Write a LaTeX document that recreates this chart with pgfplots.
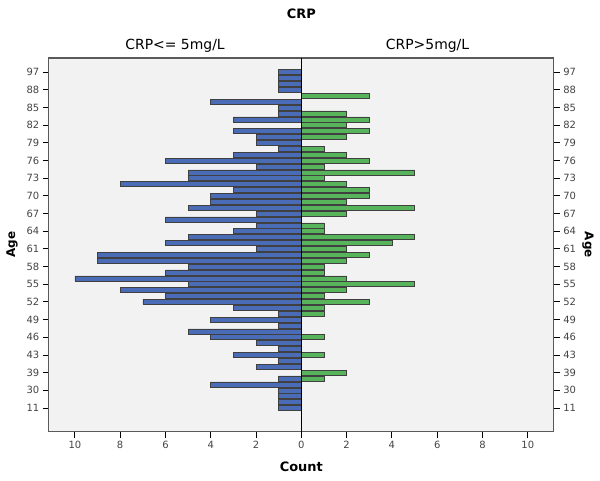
\documentclass[border=0pt]{standalone}
\usepackage{pgfplots}
\pgfplotsset{compat=1.18}
\usepackage{fontspec}
\setmainfont{DejaVu Sans}
\definecolor{bgc}{HTML}{F2F2F2}
\definecolor{framec}{HTML}{5A5A5A}
\definecolor{bluebar}{HTML}{4A6BB5}
\definecolor{greenbar}{HTML}{58B45B}
\definecolor{tickc}{HTML}{444444}
\begin{document}
\begin{tikzpicture}
\pgfplotsset{
  common/.style={
    at={(0,0)}, anchor=south west,
    width=505bp, height=373.5bp, scale only axis,
    xmin=-11.15, xmax=11.15, ymin=-4, ymax=59.4,
    ytick={0,3,...,57},
    yticklabels={11,30,39,43,46,49,52,55,58,61,64,67,70,73,76,79,82,85,88,97},
    tick align=outside,
    major tick length=6bp,
    tick style={black, line width=0.8pt},
    /pgf/number format/assume math mode=true,
    ticklabel style={font=\fontsize{10}{12}\selectfont, text=tickc},
    ylabel={Age},
  }
}
\begin{axis}[common,
  xbar, bar width=0.85, bar shift=0pt,
  axis background/.style={fill=bgc},
  axis line style={draw=framec, line width=1.2pt},
  xtick={-10,-8,...,10},
  xticklabels={10,8,6,4,2,0,2,4,6,8,10},
  xtick pos=bottom, ytick pos=left,
  xlabel={Count},
  xlabel style={font=\bfseries\fontsize{13}{15}\selectfont, at={(axis description cs:0.5,-0.095)}, anchor=center},
  ylabel style={font=\bfseries\fontsize{12}{14}\selectfont, at={(axis description cs:-0.073,0.5)}, anchor=center},
  clip=false,
]
\addplot[fill=bluebar, draw=black!75, line width=0.5pt] coordinates {
(-1,57) (-1,56) (-1,55) (-1,54) (-4,52) (-1,51) (-1,50) (-3,49) (-3,47) (-2,46)
(-2,45) (-1,44) (-3,43) (-6,42) (-2,41) (-5,40) (-5,39) (-8,38) (-3,37) (-4,36)
(-4,35) (-5,34) (-2,33) (-6,32) (-2,31) (-3,30) (-5,29) (-6,28) (-2,27) (-9,26)
(-9,25) (-5,24) (-6,23) (-10,22) (-5,21) (-8,20) (-6,19) (-7,18) (-3,17) (-1,16)
(-4,15) (-1,14) (-5,13) (-4,12) (-2,11) (-1,10) (-3,9) (-1,8) (-2,7) (-1,5)
(-4,4) (-1,3) (-1,2) (-1,1) (-1,0)
};
\addplot[fill=greenbar, draw=black!75, line width=0.5pt] coordinates {
(3,53) (2,50) (3,49) (2,48) (3,47) (2,46) (1,44) (2,43) (3,42) (1,41)
(5,40) (1,39) (2,38) (3,37) (3,36) (2,35) (5,34) (2,33) (1,31) (1,30)
(5,29) (4,28) (2,27) (3,26) (2,25) (1,24) (1,23) (2,22) (5,21) (2,20)
(1,19) (3,18) (1,17) (1,16) (1,12) (1,9) (2,6) (1,5)
};
\addplot[black, line width=1pt, xbar=0pt, draw=black, sharp plot] coordinates {(0,-4) (0,59.4)};
\node[font=\bfseries\fontsize{13}{15}\selectfont] at (axis description cs:0.5,1.1178) {CRP};
\node[font=\fontsize{14}{16}\selectfont] at (axis description cs:0.25,1.032) {CRP<= 5mg/L};
\node[font=\fontsize{14}{16}\selectfont] at (axis description cs:0.75,1.032) {CRP>5mg/L};
\end{axis}
\begin{axis}[common,
  axis y line*=right, axis x line=none,
  axis line style={draw=framec, line width=1.2pt},
  ylabel style={font=\bfseries\fontsize{12}{14}\selectfont, at={(axis description cs:1.0677,0.5)}, anchor=center, rotate=180},
]
\addplot[draw=none] coordinates {(0,0)};
\end{axis}
\path[use as bounding box] (-48.8bp,-49.5bp) rectangle (551.2bp,431.5bp);
\end{tikzpicture}
\end{document}
